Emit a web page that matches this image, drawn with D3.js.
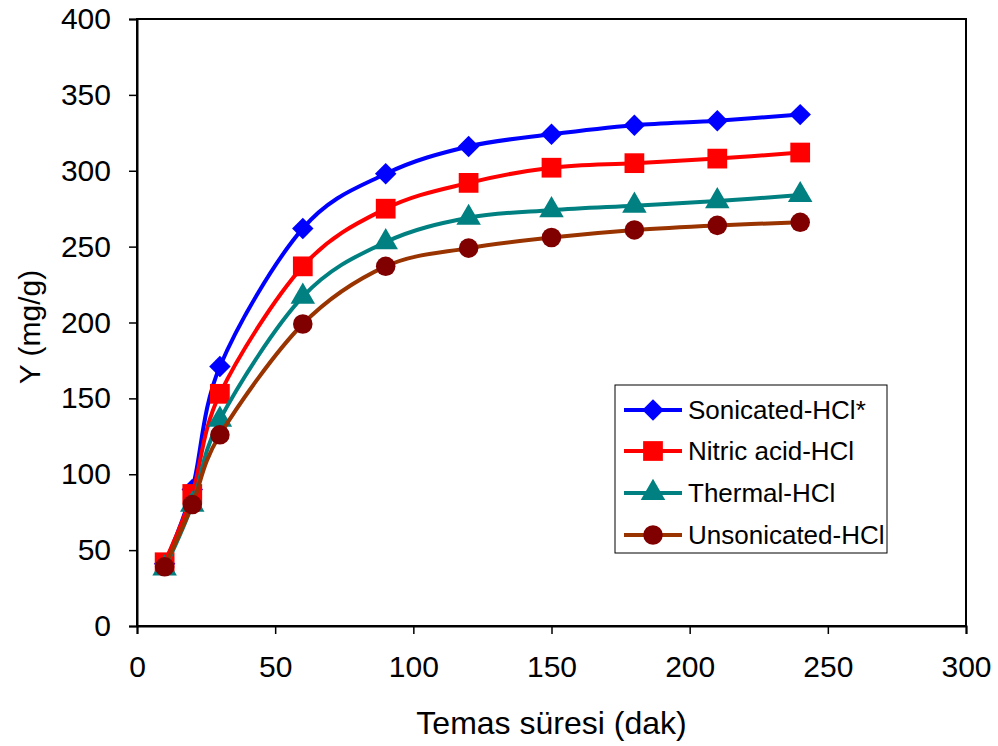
<!DOCTYPE html>
<html lang="tr">
<head>
    <meta charset="UTF-8">
    <title>Temas süresi</title>
    <script src="https://d3js.org/d3.v7.min.js"></script>
    <style>
        body { margin: 0; background: #fff; font-family: Arial, "Liberation Sans", sans-serif; }
        .tick text { font-family: Arial, "Liberation Sans", sans-serif; }
    </style>
</head>
<body>
    <div id="chart"></div>
    <script>
        const width = 998, height = 746;

        // contact time (min)
        const times = [10, 20, 30, 60, 90, 120, 150, 180, 210, 240];

        // series values (mg/g)
        const sonicated = [41, 90, 171, 262, 298, 316, 324, 330, 333, 337];
        const nitric = [42, 87, 153, 237, 275, 292, 302, 305, 308, 312];
        const thermal = [38, 80, 136, 217, 253, 269, 274, 277, 280, 284];
        const unsonicated = [39, 80, 126, 199, 237, 249, 256, 261, 264, 266];

        const seriesNames = ["Sonicated-HCl*", "Nitric acid-HCl", "Thermal-HCl", "Unsonicated-HCl"];
        const lineColors = ["#0000ff", "#ff0000", "#008080", "#993300"];
        const markerColors = ["#0000ff", "#ff0000", "#008080", "#800000"];
        // diamond = square turned 45 degrees
        const markerShapes = [d3.symbolSquare, d3.symbolSquare, d3.symbolTriangle, d3.symbolCircle];
        const markerRotate = [45, 0, 0, 0];
        const markerSizes = [230, 390, 260, 300];

        const xTicks = [0, 50, 100, 150, 200, 250, 300];
        const yTicks = [0, 50, 100, 150, 200, 250, 300, 350, 400];

        const allSeries = [sonicated, nitric, thermal, unsonicated];

        const x = d3.scaleLinear().domain([0, 300]).range([137, 966]);
        const y = d3.scaleLinear().domain([0, 400]).range([626, 19]);

        const svg = d3.select("#chart").append("svg")
            .attr("width", width).attr("height", height);

        // plot frame
        svg.append("rect")
            .attr("x", x(0)).attr("y", y(400))
            .attr("width", x(300) - x(0)).attr("height", y(0) - y(400))
            .attr("fill", "none").attr("stroke", "#000").attr("stroke-width", 2);

        // axes
        const xAxis = svg.append("g").attr("transform", `translate(0,${y(0)})`)
            .call(d3.axisBottom(x).tickValues(xTicks).tickSize(8).tickPadding(22));
        const yAxis = svg.append("g").attr("transform", `translate(${x(0)},0)`)
            .call(d3.axisLeft(y).tickValues(yTicks).tickSize(8).tickPadding(18));

        [xAxis, yAxis].forEach(g => {
            g.select(".domain").attr("stroke", "#000").attr("stroke-width", 2);
            g.selectAll(".tick line").attr("stroke", "#000").attr("stroke-width", 1.5);
            g.selectAll(".tick text").attr("font-size", 30).attr("fill", "#000");
        });

        // series
        const line = d3.line()
            .x((d, i) => x(times[i]))
            .y(d => y(d))
            .curve(d3.curveCardinal.tension(0));

        allSeries.forEach((vals, s) => {
            const g = svg.append("g");
            g.append("path")
                .attr("d", line(vals))
                .attr("fill", "none")
                .attr("stroke", lineColors[s])
                .attr("stroke-width", 4);
            g.selectAll("path.mk").data(vals).enter()
                .append("path").attr("class", "mk")
                .attr("transform", (d, i) => `translate(${x(times[i])},${y(d)}) rotate(${markerRotate[s]})`)
                .attr("d", d3.symbol().type(markerShapes[s]).size(markerSizes[s]))
                .attr("fill", markerColors[s]);
        });

        // legend
        const lg = svg.append("g");
        lg.append("rect")
            .attr("x", 615).attr("y", 385).attr("width", 272).attr("height", 168)
            .attr("fill", "#fff").attr("stroke", "#000").attr("stroke-width", 1);
        const rowY = [410, 451, 493, 535];
        seriesNames.forEach((name, s) => {
            lg.append("line")
                .attr("x1", 624).attr("x2", 682)
                .attr("y1", rowY[s]).attr("y2", rowY[s])
                .attr("stroke", lineColors[s]).attr("stroke-width", 4);
            lg.append("path")
                .attr("transform", `translate(653,${rowY[s]}) rotate(${markerRotate[s]})`)
                .attr("d", d3.symbol().type(markerShapes[s]).size(markerSizes[s]))
                .attr("fill", markerColors[s]);
            lg.append("text")
                .attr("x", 688).attr("y", rowY[s] + 9)
                .attr("font-size", 26)
                .text(name);
        });

        // axis titles
        svg.append("text")
            .attr("x", (x(0) + x(300)) / 2).attr("y", 734)
            .attr("text-anchor", "middle")
            .attr("font-size", 32)
            .text("Temas süresi (dak)");

        svg.append("text")
            .attr("transform", "rotate(-90)")
            .attr("x", -327).attr("y", 40)
            .attr("text-anchor", "middle")
            .attr("font-size", 30)
            .text("Y (mg/g)");
    </script>
</body>
</html>
